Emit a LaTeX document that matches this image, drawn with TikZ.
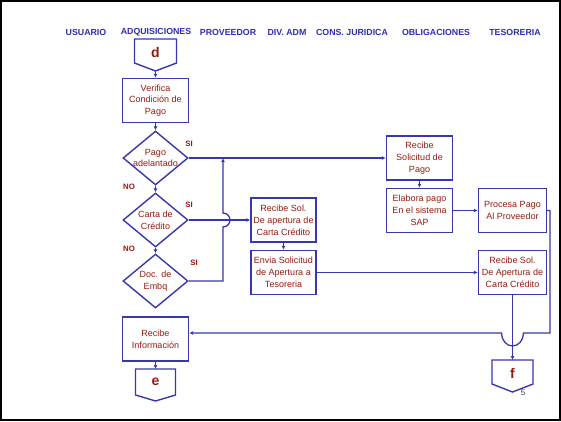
\documentclass[tikz,border=0pt]{standalone}
\usepackage{fontspec}
\setmainfont{Liberation Sans}
\usetikzlibrary{shapes.geometric,arrows.meta}
\definecolor{lblue}{RGB}{55,55,175}
\definecolor{tred}{RGB}{150,25,15}
\definecolor{hblue}{RGB}{45,45,185}
\tikzset{
 box/.style={draw=lblue, line width=1.4pt, minimum width=66pt, minimum height=44pt, inner sep=0pt, font=\fontsize{9}{11.8}\selectfont, text=tred, align=center},
 dia/.style={draw=lblue, line width=1.4pt, diamond, minimum width=65pt, minimum height=54pt, inner sep=0pt},
 dtxt/.style={font=\fontsize{9}{11.8}\selectfont, text=tred, align=center, inner sep=0pt},
 hdr/.style={font=\bfseries\fontsize{8.8}{10}\selectfont, text=hblue},
 lbl/.style={font=\bfseries\fontsize{7.8}{9}\selectfont, text=tred},
 conn/.style={draw=lblue, line width=1.4pt, line join=miter},
 ltr/.style={font=\bfseries\fontsize{14}{15}\selectfont, text=tred},
 arr/.style={draw=lblue, line width=1.3pt, -{Latex[length=4pt,width=4pt]}},
}
\begin{document}
\begin{tikzpicture}[x=1pt,y=-1pt]
\useasboundingbox (0,0) rectangle (561,421);
\draw[line width=2pt] (1,1) rectangle (560,420);
% headers
\node[hdr] (h1) at (86,32) {USUARIO};
\node[hdr] (h2) at (156,32) {ADQUISICIONES};
\node[hdr] (h3) at (228,32) {PROVEEDOR};
\node[hdr] (h4) at (287,32) {DIV. ADM};
\node[hdr] (h5) at (352,32) {CONS. JURIDICA};
\node[hdr] (h6) at (436,32) {OBLIGACIONES};
\node[hdr] (h7) at (515,32) {TESORERIA};
% boxes
\node[box] (ver) at (155.5,100.5) {Verifica\\Condición de\\Pago};
\node[dia] (pago) at (155.5,158) {};
\node[dtxt] (pagot) at (pago) {Pago\\adelantado};
\node[dia] (carta) at (155.5,220) {};
\node[dtxt] (cartat) at (carta) {Carta de\\Crédito};
\node[dia] (doc) at (155.5,281) {};
\node[dtxt] (doct) at (doc) {Doc. de\\Embq};
\node[box] (rsp) at (419.5,158) {Recibe\\Solicitud de\\Pago};
\node[box] (elab) at (419.5,210.5) {Elabora pago\\En el sistema\\SAP};
\node[box, minimum width=68pt] (proc) at (512.5,210.5) {Procesa Pago\\Al Proveedor};
\node[box, minimum width=65pt] (rsa) at (283.5,220) {Recibe Sol.\\De apertura de\\Carta Crédito};
\node[box, minimum width=65pt] (env) at (283.5,272.5) {Envia Solicitud\\de Apertura a\\Tesoreria};
\node[box, minimum width=68pt] (rsa2) at (512.5,272.5) {Recibe Sol.\\De Apertura de\\Carta Crédito};
\node[box] (rinf) at (155.5,339) {Recibe\\Información};
% off-page connectors
\draw[conn] (134.5,39) -- (176.5,39) -- (176.5,63) -- (155.5,71) -- (134.5,63) -- cycle;
\node[ltr] (d) at (155.5,52) {d};
\coordinate (dpt) at (155.5,71);
\draw[conn] (135.5,369) -- (175.5,369) -- (175.5,395) -- (155.5,401) -- (135.5,395) -- cycle;
\node[ltr] (e) at (155.5,382) {e};
\coordinate (etop) at (155.5,369);
\draw[conn] (492,360) -- (533,360) -- (533,384) -- (512.5,392) -- (492,384) -- cycle;
\node[ltr] (f) at (512.5,373) {f};
\coordinate (ftop) at (512.5,360);
% connectors
\draw[arr] (dpt) -- (ver.north);
\draw[arr] (ver.south) -- (pago.north);
\draw[arr] (pago.south) -- (carta.north);
\draw[arr] (carta.south) -- (doc.north);
\draw[arr] (pago.east) -- (rsp.west);
\draw[arr] (carta.east) -- (rsa.west);
\draw[arr] (doc.east) -- (223,281) -- (223,227) arc[start angle=-90,end angle=90,radius=7pt] -- (223,158);
\draw[arr] (rsa.south) -- (env.north);
\draw[arr] (rsp.south) -- (elab.north);
\draw[arr] (elab.east) -- (proc.west);
\draw[arr] (env.east) -- (rsa2.west);
\draw[arr] (rsa2.south) -- (ftop);
\coordinate (ri) at ([yshift=6pt]rinf.east);
\draw[arr] (proc.east) -- (550,210.5) -- (550,333) -- (523.5,333) arc[start angle=0,end angle=-180,x radius=11pt,y radius=13pt] -- (ri);
\draw[arr] (rinf.south) -- (etop);
% labels
\node[lbl] (s1) at (189,144) {SI};
\node[lbl] (s2) at (189,205) {SI};
\node[lbl] (s3) at (194,263) {SI};
\node[lbl] (n1) at (129,187) {NO};
\node[lbl] (n2) at (129,249) {NO};
\node[font=\fontsize{8}{9}\selectfont, text={rgb,255:red,60;green,60;blue,90}] (pg) at (523,393) {5};
\end{tikzpicture}
\end{document}
